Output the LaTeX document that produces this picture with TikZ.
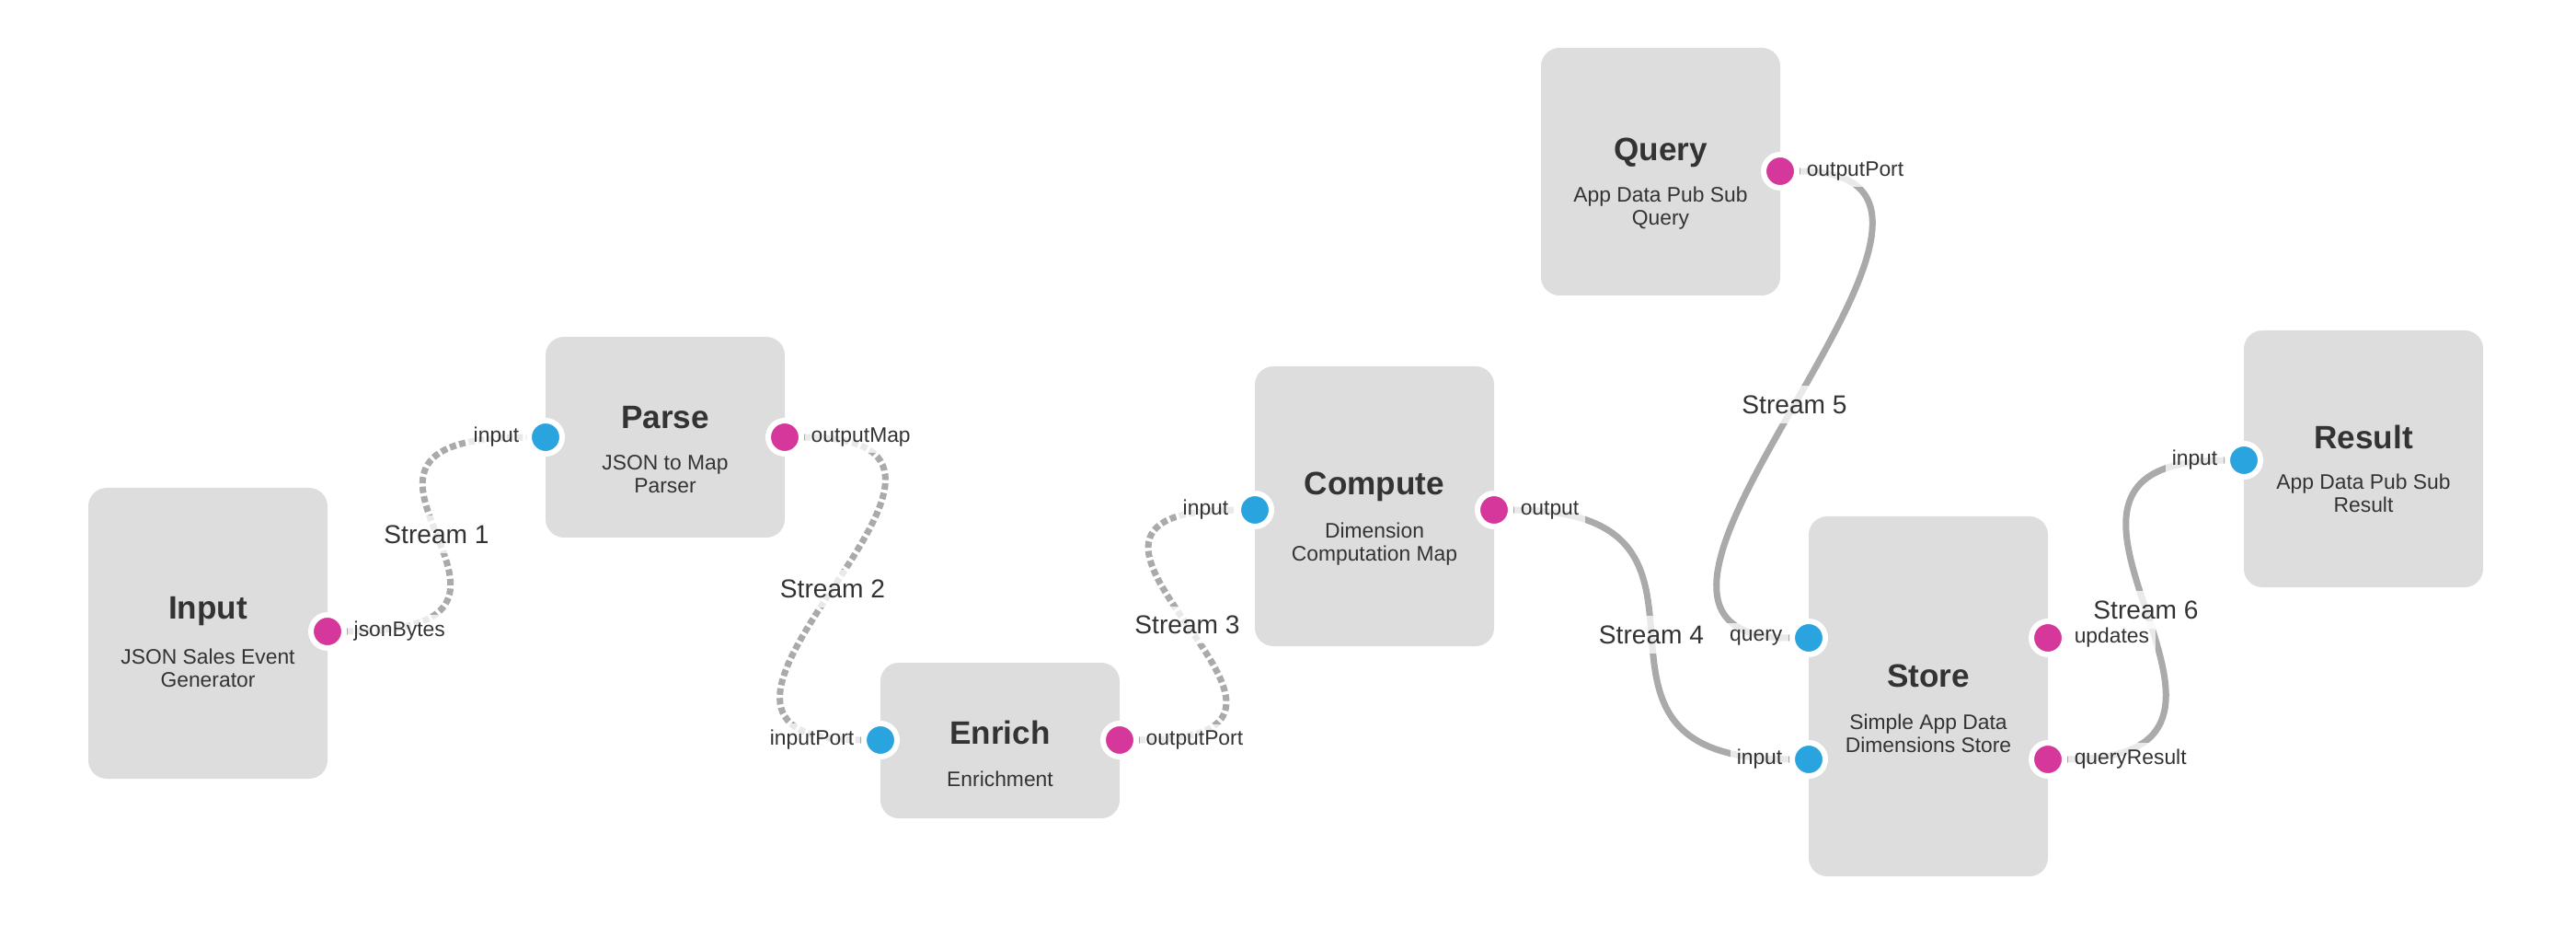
\documentclass[tikz,border=0pt]{standalone}
\usepackage{fontspec}
\setmainfont{Liberation Sans}
\usetikzlibrary{positioning}
\definecolor{boxgray}{HTML}{DDDDDD}
\definecolor{linegray}{HTML}{AAAAAA}
\definecolor{inblue}{HTML}{2AA4DF}
\definecolor{outpink}{HTML}{D6379A}
\definecolor{textgray}{HTML}{333333}

\begin{document}
\begin{tikzpicture}[text=textgray]

      \useasboundingbox (0,0) rectangle (28,10.3);

      \begin{scope}[every node/.style={rectangle,rounded corners=0.2cm,fill=boxgray,minimum width=2.6cm,inner sep=0pt,outer sep=0pt}]
        \node[minimum height=3.16cm] (input)   at (2.26,3.42)   {};
        \node[minimum height=2.18cm] (parse)   at (7.23,5.55)   {};
        \node[minimum height=1.69cm] (enrich)  at (10.87,2.255) {};
        \node[minimum height=3.04cm] (compute) at (14.94,4.80)  {};
        \node[minimum height=2.69cm] (query)   at (18.05,8.435) {};
        \node[minimum height=3.91cm] (store)   at (20.96,2.735) {};
        \node[minimum height=2.79cm] (result)  at (25.69,5.315) {};
      \end{scope}

      \begin{scope}[every node/.style={font=\fontsize{10}{12}\selectfont\bfseries}]
        \node (inputtitle)   at (2.26,3.66)  {Input};
        \node (parsetitle)   at (7.23,5.76)  {Parse};
        \node (enrichtitle)  at (10.87,2.34) {Enrich};
        \node (computetitle) at (14.94,5.01) {Compute};
        \node (querytitle)   at (18.05,8.64) {Query};
        \node (storetitle)   at (20.96,2.96) {Store};
        \node (resulttitle)  at (25.69,5.55) {Result};
      \end{scope}

      \begin{scope}[every node/.style={font=\fontsize{6.5}{7.1}\selectfont,align=center}]
        \node (inputsub)   at (2.26,3.045)  {JSON Sales Event\\Generator};
        \node (parsesub)   at (7.23,5.145)  {JSON to Map\\Parser};
        \node (enrichsub)  at (10.87,1.84)  {Enrichment};
        \node (computesub) at (14.94,4.385) {Dimension\\Computation Map};
        \node (querysub)   at (18.05,8.035) {App Data Pub Sub\\Query};
        \node (storesub)   at (20.96,2.335) {Simple App Data\\Dimensions Store};
        \node (resultsub)  at (25.69,4.945) {App Data Pub Sub\\Result};
      \end{scope}

      \begin{scope}[every node/.style={circle,draw=white,line width=0.06cm,minimum size=0.36cm,inner sep=0pt}]
        \node[fill=outpink] (jsonbytes)   at (3.56,3.44)  {};
        \node[fill=inblue]  (parsein)     at (5.93,5.55)  {};
        \node[fill=outpink] (parseout)    at (8.53,5.55)  {};
        \node[fill=inblue]  (enrichin)    at (9.57,2.26)  {};
        \node[fill=outpink] (enrichout)   at (12.17,2.26) {};
        \node[fill=inblue]  (computein)   at (13.64,4.76) {};
        \node[fill=outpink] (computeout)  at (16.24,4.76) {};
        \node[fill=outpink] (queryout)    at (19.35,8.44) {};
        \node[fill=inblue]  (storequery)  at (19.66,3.37) {};
        \node[fill=inblue]  (storein)     at (19.66,2.05) {};
        \node[fill=outpink] (storeupd)    at (22.26,3.37) {};
        \node[fill=outpink] (storeresult) at (22.26,2.05) {};
        \node[fill=inblue]  (resultin)    at (24.39,5.30) {};
      \end{scope}

      \begin{scope}[every node/.style={fill=white,fill opacity=0.75,text opacity=1,inner sep=3pt,font=\fontsize{8}{9.6}\selectfont},
                    every edge/.style={draw=linegray,line width=0.07cm,
                      to path={.. controls +(3,0) and +(-3,0) .. (\tikztotarget) \tikztonodes}}]
        \path (jsonbytes)   edge[dash pattern=on 0.07cm off 0.035cm] node[midway] {Stream 1} (parsein);
        \path (parseout)    edge[dash pattern=on 0.07cm off 0.035cm] node[midway] {Stream 2} (enrichin);
        \path (enrichout)   edge[dash pattern=on 0.07cm off 0.035cm] node[midway] {Stream 3} (computein);
        \path (computeout)  edge node[midway] {Stream 4} (storein);
        \path (queryout)    edge node[midway] {Stream 5} (storequery);
        \path (storeresult) edge node[midway] {Stream 6} (resultin);
      \end{scope}

      \begin{scope}[every node/.style={fill=white,fill opacity=0.75,text opacity=1,inner sep=2pt,font=\fontsize{6.5}{7.8}\selectfont}]
        \node[right=0pt of jsonbytes]  (jsonbyteslbl)   {jsonBytes};
        \node[left=0pt of parsein]     (parseinlbl)     {input};
        \node[right=0pt of parseout]   (parseoutlbl)    {outputMap};
        \node[left=0pt of enrichin]    (enrichinlbl)    {inputPort};
        \node[right=0pt of enrichout]  (enrichoutlbl)   {outputPort};
        \node[left=0pt of computein]   (computeinlbl)   {input};
        \node[right=0pt of computeout] (computeoutlbl)  {output};
        \node[right=0pt of queryout]   (queryoutlbl)    {outputPort};
        \node[left=0pt of storequery]  (storequerylbl)  {query};
        \node[left=0pt of storein]     (storeinlbl)     {input};
        \node[right=0pt of storeupd]   (storeupdlbl)    {updates};
        \node[right=0pt of storeresult] (storeresultlbl) {queryResult};
        \node[left=0pt of resultin]    (resultinlbl)    {input};
      \end{scope}

    \end{tikzpicture}
\end{document}
